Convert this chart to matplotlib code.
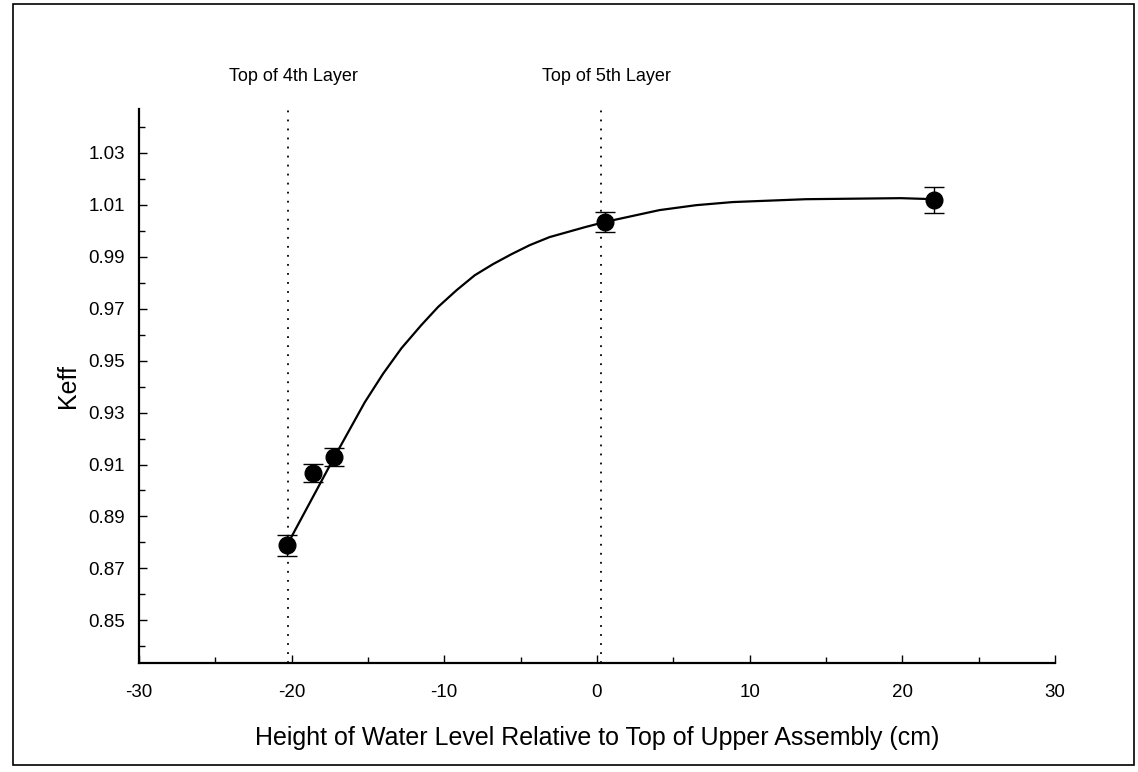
import numpy as np
import matplotlib
matplotlib.use("Agg")
import matplotlib.pyplot as plt
from matplotlib.patches import Rectangle
from matplotlib.ticker import MultipleLocator

plt.rcParams["font.family"] = ["Liberation Sans", "DejaVu Sans"]
plt.rcParams["axes.unicode_minus"] = False

# measured points (height in cm, keff, 1-sigma)
height = [-20.3, -18.6, -17.2, 0.5, 22.1]
keff = [0.8789, 0.9068, 0.9128, 1.0034, 1.0118]
keff_err = [0.004, 0.0035, 0.0035, 0.004, 0.005]

# fitted curve
curve_x = [-20.3, -17.2, -15.2, -14.0, -12.8, -11.5, -10.4, -9.2, -8.0,
           -6.8, -5.6, -4.4, -3.1, -0.8, 0.5, 4.1, 6.5, 8.9, 13.7, 19.9, 22.1]
curve_y = [0.8789, 0.9128, 0.9340, 0.9450, 0.9548, 0.9637, 0.9707, 0.9771,
           0.9829, 0.9872, 0.9910, 0.9945, 0.9976, 1.0014, 1.0034, 1.0080,
           1.0099, 1.0111, 1.0122, 1.0126, 1.0122]

layer_x = [-20.2, 0.3]
layer_labels = ["Top of 4th Layer", "Top of 5th Layer"]

fig = plt.figure(figsize=(11.38, 7.72), dpi=100)
ax = fig.add_axes([0.122, 0.141, 0.805, 0.718])

ax.plot(curve_x, curve_y, color="black", lw=1.6)
ax.errorbar(height, keff, yerr=keff_err, fmt="o", color="black",
            markersize=12, capsize=7, elinewidth=1, capthick=1)

for xv, lab in zip(layer_x, layer_labels):
    ax.axvline(xv, color="black", lw=1.3, linestyle=(0, (1, 4)))
    ax.text(xv + 0.3, 1.0595, lab, ha="center", va="center", fontsize=13,
            clip_on=False)

ax.set_xlim(-30, 30)
ax.set_ylim(0.8335, 1.047)
ax.xaxis.set_major_locator(MultipleLocator(10))
ax.xaxis.set_minor_locator(MultipleLocator(5))
ax.set_yticks([0.85, 0.87, 0.89, 0.91, 0.93, 0.95, 0.97, 0.99, 1.01, 1.03])
ax.set_yticks(np.arange(0.84, 1.045, 0.02), minor=True)
ax.set_yticklabels(["0.85", "0.87", "0.89", "0.91", "0.93", "0.95", "0.97",
                    "0.99", "1.01", "1.03"])

ax.spines["top"].set_visible(False)
ax.spines["right"].set_visible(False)
ax.spines["left"].set_linewidth(1.6)
ax.spines["bottom"].set_linewidth(1.6)
ax.tick_params(axis="both", which="major", direction="in", length=6,
               width=1, labelsize=13.5)
ax.tick_params(axis="both", which="minor", direction="in", length=4, width=1)
ax.tick_params(axis="x", which="major", pad=15)
ax.tick_params(axis="y", which="major", pad=10)

ax.set_xlabel("Height of Water Level Relative to Top of Upper Assembly (cm)",
              fontsize=18, labelpad=18)
ax.set_ylabel("Keff", fontsize=18, labelpad=6)

# outer frame around the figure
fig.patches.append(Rectangle((13 / 1138, 1 - 765 / 772), 1121 / 1138, 761 / 772,
                             transform=fig.transFigure, fill=False,
                             edgecolor="black", lw=1.2))

fig.savefig("out.png", dpi=100)
